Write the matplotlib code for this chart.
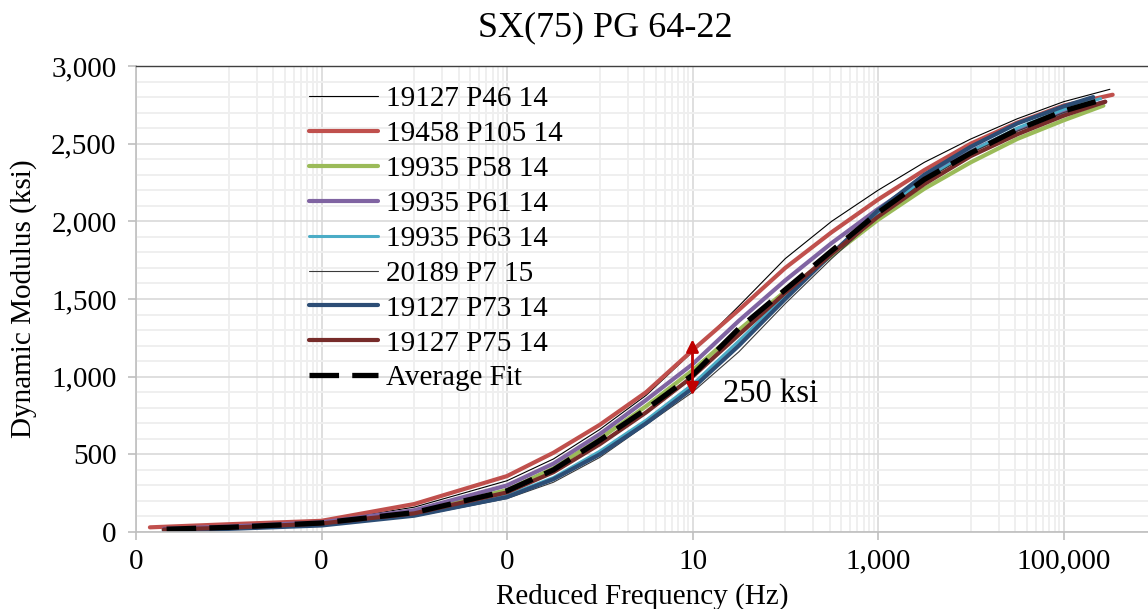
import numpy as np
import matplotlib
matplotlib.use("Agg")
import matplotlib.pyplot as plt
from matplotlib.ticker import FixedLocator, FuncFormatter, MultipleLocator

plt.rcParams['font.family'] = ['Liberation Serif', 'DejaVu Serif']

# ---- data (log10 of reduced frequency in Hz, dynamic modulus in ksi) ----
series_names = ["19127 P46 14", "19458 P105 14", "19935 P58 14", "19935 P61 14",
                "19935 P63 14", "20189 P7 15", "19127 P73 14", "19127 P75 14"]

logf_p46 = [-4.7, -4, -3, -2, -1, -0.5, 0, 0.5, 1, 1.5, 2, 2.5, 3, 3.5, 4, 4.5, 5, 5.5]
e_p46 = [22, 40, 65, 160, 330, 470, 660, 880, 1160, 1455, 1760, 2000, 2200, 2380, 2530, 2660, 2770, 2850]

logf_p105 = [-4.85, -4, -3, -2, -1, -0.5, 0, 0.5, 1, 1.5, 2, 2.5, 3, 3.5, 4, 4.5, 5, 5.53]
e_p105 = [30, 50, 72, 180, 360, 510, 690, 900, 1170, 1430, 1700, 1930, 2140, 2330, 2500, 2635, 2745, 2815]

logf_p58 = [-4.7, -4, -3, -2, -1, -0.5, 0, 0.5, 1, 1.5, 2, 2.5, 3, 3.5, 4, 4.5, 5, 5.43]
e_p58 = [15, 28, 55, 125, 270, 410, 600, 810, 1040, 1300, 1550, 1780, 2010, 2210, 2380, 2530, 2650, 2745]

logf_p61 = [-4.7, -4, -3, -2, -1, -0.5, 0, 0.5, 1, 1.5, 2, 2.5, 3, 3.5, 4, 4.5, 5, 5.45]
e_p61 = [20, 35, 62, 140, 300, 440, 630, 850, 1080, 1360, 1620, 1860, 2080, 2280, 2450, 2590, 2700, 2770]

logf_p63 = [-4.7, -4, -3, -2, -1, -0.5, 0, 0.5, 1, 1.5, 2, 2.5, 3, 3.5, 4, 4.5, 5, 5.4]
e_p63 = [12, 22, 45, 110, 235, 350, 520, 720, 950, 1230, 1520, 1790, 2050, 2270, 2450, 2600, 2720, 2790]

logf_p7 = [-4.7, -4, -3, -2, -1, -0.5, 0, 0.5, 1, 1.5, 2, 2.5, 3, 3.5, 4, 4.5, 5, 5.4]
e_p7 = [14, 24, 45, 100, 215, 320, 480, 690, 900, 1160, 1470, 1760, 2030, 2260, 2440, 2580, 2700, 2770]

logf_p73 = [-4.7, -4, -3, -2, -1, -0.5, 0, 0.5, 1, 1.5, 2, 2.5, 3, 3.5, 4, 4.5, 5, 5.32]
e_p73 = [10, 20, 42, 105, 225, 340, 500, 700, 925, 1200, 1500, 1790, 2070, 2300, 2480, 2630, 2740, 2800]

logf_p75 = [-4.7, -4, -3, -2, -1, -0.5, 0, 0.5, 1, 1.5, 2, 2.5, 3, 3.5, 4, 4.5, 5, 5.45]
e_p75 = [16, 28, 55, 120, 255, 385, 565, 770, 1000, 1270, 1540, 1790, 2030, 2240, 2420, 2560, 2680, 2770]

logf_avg = [-4.67, -4, -3, -2, -1, -0.5, 0, 0.5, 1, 1.5, 2, 2.5, 3, 3.5, 4, 4.5, 5, 5.4]
e_avg = [18, 30, 58, 125, 265, 400, 590, 790, 1010, 1310, 1560, 1810, 2055, 2270, 2440, 2590, 2710, 2780]

arrow_freq = 10
arrow_top, arrow_bottom = 1240, 880
spread_label = "250 ksi"

xtick_vals = [1e-5, 1e-3, 1e-1, 1e1, 1e3, 1e5]
ytick_vals = [0, 500, 1000, 1500, 2000, 2500, 3000]

# ---- figure ----
W, H = 1148, 609
fig = plt.figure(figsize=(W / 100, H / 100), dpi=100)
ax = fig.add_axes([136 / W, 1 - 532 / H, 1 - 136 / W, (532 - 66) / H])

styles = [
    (logf_p46, e_p46, dict(color="black", lw=0.8)),
    (logf_p105, e_p105, dict(color="#C0504D", lw=3.0)),
    (logf_p58, e_p58, dict(color="#9BBB59", lw=3.0)),
    (logf_p61, e_p61, dict(color="#8064A2", lw=3.0)),
    (logf_p63, e_p63, dict(color="#4BACC6", lw=2.2)),
    (logf_p7, e_p7, dict(color="#3a3a3a", lw=0.8)),
    (logf_p73, e_p73, dict(color="#2C4D75", lw=3.0)),
    (logf_p75, e_p75, dict(color="#772C2A", lw=3.0)),
]
for (lf, e, st), name in zip(styles, series_names):
    ax.plot(10 ** np.array(lf), e, label=name, solid_capstyle="round",
            solid_joinstyle="round", **st)

ax.plot(10 ** np.array(logf_avg), e_avg, color="black", lw=3.8,
        dashes=(5.6, 2.5), label="Average Fit")

# spread arrow
ax.annotate("", xy=(arrow_freq, arrow_bottom), xytext=(arrow_freq, arrow_top),
            arrowprops=dict(arrowstyle="<|-|>", color="#C00000", lw=2.0,
                            mutation_scale=18, shrinkA=0, shrinkB=0))
ax.text(10 ** 1.33, 890, spread_label, fontsize=23.5, va="center", ha="left")

# axes settings
ax.set_xscale("log")
ax.set_xlim(1e-5, 10 ** 5.911)
ax.set_ylim(0, 3000)
ax.xaxis.set_major_locator(FixedLocator(xtick_vals))
minor = [m * 10.0 ** k for k in (-4, -2, 0, 2, 4) for m in range(1, 10)]
ax.xaxis.set_minor_locator(FixedLocator(minor))
ax.xaxis.set_major_formatter(FuncFormatter(lambda v, p: f"{v:,.0f}"))
ax.xaxis.set_minor_formatter(FuncFormatter(lambda v, p: ""))
ax.yaxis.set_major_locator(FixedLocator(ytick_vals))
ax.yaxis.set_minor_locator(MultipleLocator(100))
ax.yaxis.set_major_formatter(FuncFormatter(lambda v, p: f"{v:,.0f}"))

ax.grid(which="major", color="#D9D9D9", lw=1.2)
ax.grid(which="minor", color="#EFEFEF", lw=1.4)
ax.set_axisbelow(True)

ax.tick_params(axis="both", which="major", labelsize=21, color="#BFBFBF",
               length=6, width=1.2, direction="out")
ax.tick_params(axis="x", which="major", pad=6)
ax.tick_params(axis="y", which="major", pad=8)
ax.tick_params(which="minor", length=0)

for s in ("left", "bottom"):
    ax.spines[s].set_color("#BFBFBF")
    ax.spines[s].set_linewidth(1.2)
ax.spines["right"].set_visible(False)
ax.spines["top"].set_color("#404040")
ax.spines["top"].set_linewidth(1.0)

ax.set_xlabel("Reduced Frequency (Hz)", fontsize=21, labelpad=6)
ax.set_ylabel("Dynamic Modulus (ksi)", fontsize=21, labelpad=10)
fig.text(605 / W, 1 - 28 / H, "SX(75) PG 64-22", fontsize=26, ha="center", va="center")

leg = ax.legend(loc="upper left",
                bbox_to_anchor=((309 - 136) / (W - 136), 1 - (86 - 66) / (532 - 66)),
                frameon=False, fontsize=21, handlelength=2.35, handletextpad=0.3,
                labelspacing=0.29, borderpad=0, borderaxespad=0)

fig.savefig("out.png", dpi=100)
